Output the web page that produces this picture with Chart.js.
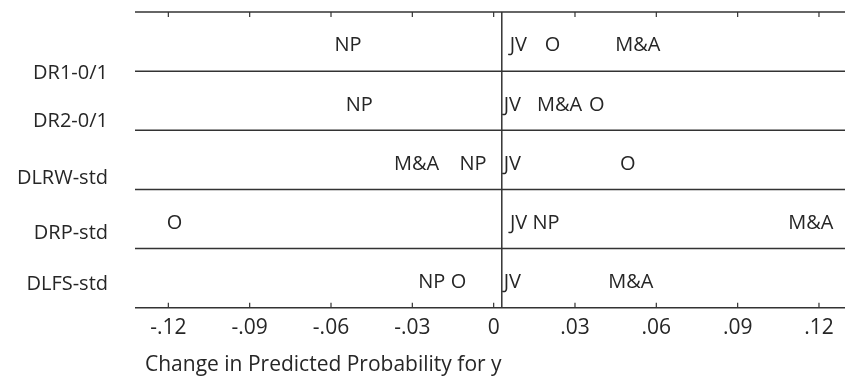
<!DOCTYPE html>
<html>
<head>
<meta charset="utf-8">
<script src="https://cdn.jsdelivr.net/npm/chart.js@4.4.1/dist/chart.umd.min.js"></script>
<style>
  html, body { margin: 0; padding: 0; background: #fff; }
  #wrap { width: 845px; height: 377px; }
</style>
</head>
<body>
<div id="wrap"><canvas id="grafico"></canvas></div>
<script>
// rows, top to bottom
const linhas = ['DR1-0/1', 'DR2-0/1', 'DLRW-std', 'DRP-std', 'DLFS-std'];
// where each row label sits on the y scale (0 = top, 5 = bottom)
const posLinhas = [1.03, 1.84, 2.82, 3.75, 4.6];

// change in predicted probability per outcome, one value per row
const valJV = [0.0091, 0.0069, 0.0069, 0.0092, 0.0069];
const valNP = [-0.0537, -0.0496, -0.0076, 0.0193, -0.0228];
const valO = [0.0217, 0.0380, 0.0495, -0.1177, -0.0130];
const valMA = [0.0532, 0.0243, -0.0284, 0.1170, 0.0506];

const ticksX = [-0.12, -0.09, -0.06, -0.03, 0, 0.03, 0.06, 0.09, 0.12];
const rotulosX = ['-.12', '-.09', '-.06', '-.03', '0', '.03', '.06', '.09', '.12'];
const linhaRef = 0.003;
const tituloX = 'Change in Predicted Probability for y';

const corTexto = '#262626';
const corLinha = '#333333';
const fonte = '"Open Sans", "DejaVu Sans", sans-serif';

function serie(nome, vals) {
    return {
        label: nome,
        data: vals.map((v, i) => ({ x: v, y: i + 0.57 })),
        pointRadius: 0,
        showLine: false
    };
}

const desenhaExtras = {
    id: 'desenhaExtras',
    afterDatasetsDraw(chart) {
        const ctx = chart.ctx;
        const a = chart.chartArea;
        const sx = chart.scales.x, sy = chart.scales.y;
        ctx.save();

        // letters at each value
        ctx.fillStyle = corTexto;
        ctx.font = '20px ' + fonte;
        ctx.textAlign = 'center';
        ctx.textBaseline = 'middle';
        chart.data.datasets.forEach((ds, di) => {
            chart.getDatasetMeta(di).data.forEach(pt => {
                ctx.fillText(ds.label, pt.x, pt.y);
            });
        });

        // row separators + top / bottom axis lines
        ctx.strokeStyle = corLinha;
        ctx.lineWidth = 1.5;
        for (let k = 0; k <= linhas.length; k++) {
            const y = sy.getPixelForValue(k);
            ctx.beginPath();
            ctx.moveTo(a.left, y);
            ctx.lineTo(a.right, y);
            ctx.stroke();
        }

        // ticks pointing inward
        ctx.lineWidth = 1.2;
        sx.ticks.forEach(t => {
            const x = sx.getPixelForValue(t.value);
            ctx.beginPath();
            ctx.moveTo(x, a.top); ctx.lineTo(x, a.top + 5);
            ctx.moveTo(x, a.bottom); ctx.lineTo(x, a.bottom - 5);
            ctx.stroke();
        });

        // reference line
        const xr = sx.getPixelForValue(linhaRef);
        ctx.lineWidth = 1.5;
        ctx.beginPath();
        ctx.moveTo(xr, a.top);
        ctx.lineTo(xr, a.bottom);
        ctx.stroke();

        // axis title
        ctx.font = '21px ' + fonte;
        ctx.textAlign = 'left';
        ctx.textBaseline = 'alphabetic';
        ctx.fillText(tituloX, a.left + 10, 371);
        ctx.restore();
    }
};

new Chart(document.getElementById('grafico'), {
    type: 'scatter',
    data: {
        datasets: [serie('JV', valJV), serie('NP', valNP), serie('O', valO), serie('M&A', valMA)]
    },
    options: {
        responsive: true,
        maintainAspectRatio: false,
        animation: false,
        layout: { padding: { top: 12, right: 0, left: 0, bottom: 0 } },
        plugins: { legend: { display: false }, tooltip: { enabled: false } },
        scales: {
            x: {
                type: 'linear',
                min: -0.1323,
                max: 0.1296,
                afterBuildTicks: s => { s.ticks = ticksX.map(v => ({ value: v })); },
                afterFit: s => { s.height = 69.3; s.paddingLeft = 0; s.paddingRight = 0; },
                grid: { display: false },
                border: { display: false },
                ticks: {
                    color: corTexto,
                    font: { family: fonte, size: 21 },
                    padding: 0,
                    maxRotation: 0,
                    autoSkip: false,
                    callback: (v, i) => rotulosX[i]
                }
            },
            y: {
                type: 'linear',
                min: 0,
                max: 5,
                reverse: true,
                afterBuildTicks: s => { s.ticks = posLinhas.map(v => ({ value: v })); },
                afterFit: s => { s.width = 135; s.paddingTop = 0; s.paddingBottom = 0; },
                grid: { display: false },
                border: { display: false },
                ticks: {
                    color: corTexto,
                    font: { family: fonte, size: 20 },
                    padding: 19,
                    autoSkip: false,
                    callback: (v, i) => linhas[i]
                }
            }
        }
    },
    plugins: [desenhaExtras]
});
</script>
</body>
</html>
